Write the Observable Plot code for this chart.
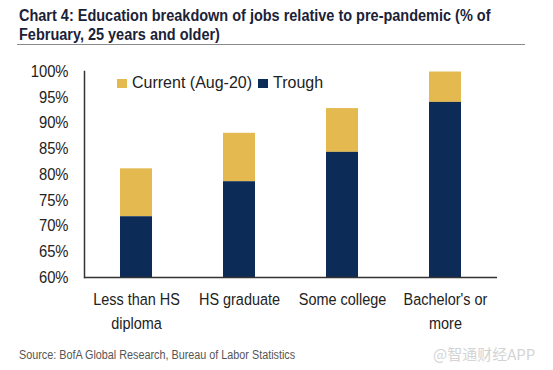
<!DOCTYPE html>
<html>
<head>
<meta charset="utf-8">
<script src="https://cdn.jsdelivr.net/npm/d3@7"></script>
<script src="https://cdn.jsdelivr.net/npm/@observablehq/plot@0.6"></script>
<style>
  html, body { margin: 0; padding: 0; background: #fff; }
  #wrap { position: relative; width: 553px; height: 370px; overflow: hidden; background: #fff; }
  #title { position: absolute; left: 19px; top: 6px;
    font-family: "Liberation Sans", Arial, sans-serif; font-weight: bold;
    font-size: 16px; line-height: 19px; color: #1b2238; white-space: nowrap;
    transform: scaleX(0.905); transform-origin: 0 0; }
  #rule { position: absolute; left: 17px; top: 43.5px; width: 508px; height: 0; border-top: 1.5px solid #8a8a8a; }
  #chart { position: absolute; left: 0; top: 50px; }
  #legend { position: absolute; left: 117px; top: 74px; font-family: "Liberation Sans", Arial, sans-serif; font-size: 16px; color: #222; white-space: nowrap; display: flex; }
  #legend span.item { display: inline-flex; align-items: center; margin-right: 6px; }
  #legend span.sw { display: inline-block; width: 10px; height: 9px; margin-right: 5px; }
  #source { position: absolute; left: 19px; top: 348px; font-family: "Liberation Sans", Arial, sans-serif; font-size: 12px; color: #555; white-space: nowrap; transform: scaleX(0.9); transform-origin: 0 0; }
  #mark { position: absolute; left: 433px; top: 343px; font-family: "Noto Sans CJK SC", sans-serif; font-size: 15px; color: #d4d4d4; white-space: nowrap; }
</style>
</head>
<body>
<div id="wrap">
  <div id="title"></div>
  <div id="rule"></div>
  <div id="chart"></div>
  <div id="legend"></div>
  <div id="source"></div>
  <div id="mark"></div>
</div>
<script>
const titleLines = ["Chart 4: Education breakdown of jobs relative to pre-pandemic (% of", "February, 25 years and older)"];
const categories = ["Less than HS\ndiploma", "HS graduate", "Some college", "Bachelor's or\nmore"];
const trough = [71.8, 78.6, 84.3, 94.0];
const current = [81.1, 88.0, 92.8, 99.9];
const seriesNames = ["Current (Aug-20)", "Trough"];
const seriesColors = ["#e4b94f", "#0d2b57"];
const yTicks = [60, 65, 70, 75, 80, 85, 90, 95, 100];
const sourceText = "Source: BofA Global Research, Bureau of Labor Statistics";
const watermark = "@智通财经APP";

document.getElementById("title").innerHTML = titleLines.join("<br>");
document.getElementById("source").textContent = sourceText;
document.getElementById("mark").textContent = watermark;

const legend = document.getElementById("legend");
seriesNames.forEach((name, i) => {
  const item = document.createElement("span");
  item.className = "item";
  const sw = document.createElement("span");
  sw.className = "sw";
  sw.style.background = seriesColors[i];
  item.appendChild(sw);
  item.appendChild(document.createTextNode(name));
  legend.appendChild(item);
});

const yMin = yTicks[0];
const data = categories.map((c, i) => ({cat: c, trough: trough[i], current: current[i], base: yMin}));

const chart = Plot.plot({
  width: 553,
  height: 285,
  marginTop: 21,
  marginBottom: 58,
  marginLeft: 84,
  marginRight: 56,
  style: {fontFamily: '"Liberation Sans", Arial, sans-serif', fontSize: "17px", color: "#222", background: "transparent"},
  x: {domain: categories, paddingInner: 0.69, paddingOuter: 0.345, label: null},
  y: {domain: [yTicks[0], yTicks[yTicks.length - 1]], label: null},
  marks: [
    Plot.barY(data, {x: "cat", y1: "trough", y2: "current", fill: seriesColors[0]}),
    Plot.barY(data, {x: "cat", y1: "base", y2: "trough", fill: seriesColors[1]}),
    Plot.frame({anchor: "left", stroke: "#333", strokeWidth: 1.5}),
    Plot.ruleY([yMin], {stroke: "#333", strokeWidth: 1.5}),
    Plot.axisY({ticks: yTicks, tickFormat: d => d + "%", tickSize: 0, tickPadding: 16, label: null}),
    Plot.axisX({tickSize: 0, tickPadding: 11, label: null, lineHeight: 1.4})
  ]
});
const squeeze = (sel, k) => d3.select(chart).selectAll(sel).attr("transform", function () {
  const t = this.getAttribute("transform") || "";
  return t + ` scale(${k},1)`;
});
squeeze('g[aria-label="y-axis tick label"] text', 0.87);
squeeze('g[aria-label="x-axis tick label"] text', 0.85);
document.getElementById("chart").appendChild(chart);
</script>
</body>
</html>
